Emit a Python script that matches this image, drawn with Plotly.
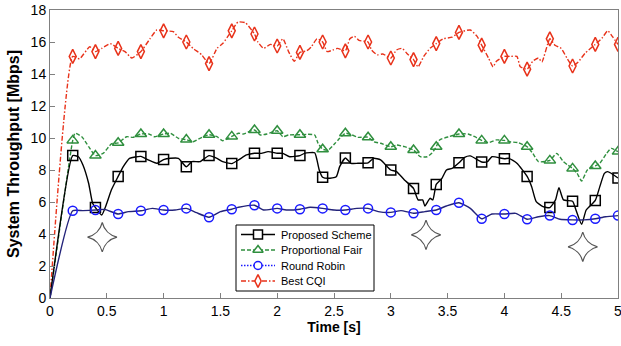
import plotly.graph_objects as go

# ---- data ----
cqi_t = [0, 0.2, 0.26, 0.35, 0.4, 0.455, 0.53, 0.6, 0.66, 0.72, 0.8, 0.88, 0.94, 1.0, 1.085, 1.13, 1.2, 1.26, 1.335, 1.4,
         1.47, 1.52, 1.6, 1.655, 1.72, 1.8, 1.83, 1.88, 1.94, 2.0, 2.05, 2.1, 2.15, 2.2, 2.26, 2.3, 2.35, 2.4, 2.44, 2.49,
         2.53, 2.6, 2.64, 2.68, 2.72, 2.8, 2.83, 2.88, 2.93, 3.0, 3.05, 3.1, 3.14, 3.2, 3.24, 3.29, 3.345, 3.4, 3.46, 3.54,
         3.6, 3.7, 3.76, 3.8, 3.86, 3.9, 3.93, 4.0, 4.05, 4.11, 4.14, 4.2, 4.25, 4.3, 4.33, 4.4, 4.445, 4.5, 4.55, 4.6,
         4.65, 4.71, 4.8, 4.86, 4.91, 4.95, 5.0]
cqi_v = [0, 15.1, 14.95, 15.7, 15.4, 15.6, 15.9, 15.6, 15.4, 15.0, 15.4, 16.2, 16.75, 16.7, 16.65, 16.3, 16.0, 15.6, 15.2, 14.65,
         15.6, 15.9, 16.7, 17.25, 17.2, 16.5, 16.0, 15.6, 15.85, 15.75, 16.2, 15.4, 14.8, 15.35, 15.45, 15.7, 16.2, 16.0, 15.4, 15.5,
         15.6, 15.45, 16.2, 16.35, 16.1, 16.0, 15.5, 15.2, 15.25, 15.0, 15.5, 15.6, 15.3, 14.9, 14.45, 15.1, 15.6, 15.9, 16.2, 16.3,
         16.6, 16.75, 16.35, 15.8, 15.0, 14.45, 14.8, 15.1, 15.1, 15.1, 14.45, 14.3, 14.8, 15.0, 14.75, 16.2, 15.8, 15.6, 15.0, 14.5,
         14.75, 15.3, 15.85, 16.25, 16.7, 16.35, 15.85]

pf_t = [0, 0.2, 0.22, 0.28, 0.34, 0.4, 0.47, 0.54, 0.6, 0.675, 0.73, 0.8, 0.87, 0.92, 1.0, 1.06, 1.13, 1.2, 1.26, 1.32,
        1.4, 1.47, 1.52, 1.6, 1.66, 1.70, 1.8, 1.85, 1.91, 2.0, 2.05, 2.1, 2.2, 2.26, 2.33, 2.36, 2.4, 2.45, 2.51, 2.55,
        2.6, 2.66, 2.71, 2.8, 2.85, 2.91, 3.0, 3.05, 3.12, 3.2, 3.26, 3.32, 3.36, 3.4, 3.43, 3.51, 3.6, 3.68, 3.74, 3.8,
        3.86, 3.93, 4.0, 4.04, 4.12, 4.2, 4.25, 4.30, 4.4, 4.46, 4.52, 4.56, 4.6, 4.64, 4.68, 4.73, 4.8, 4.84, 4.9, 4.94, 5.0]
pf_v = [0, 9.85, 10.3, 10.08, 9.46, 8.9, 9.05, 9.63, 9.7, 10.08, 10.04, 10.25, 10.25, 10.08, 10.25, 10.3, 9.98, 9.9, 9.77, 9.98,
        10.2, 10.08, 9.83, 10.1, 10.3, 10.25, 10.5, 10.19, 10.25, 10.45, 10.08, 10.19, 10.2, 10.23, 10.19, 9.67, 9.3, 9.25, 9.67, 9.98,
        10.3, 10.19, 10.04, 10.05, 9.77, 9.67, 9.45, 9.56, 9.46, 9.25, 8.83, 8.83, 9.04, 9.45, 9.88, 10.08, 10.25, 10.25, 10.08, 9.85,
        9.71, 9.88, 9.85, 9.77, 9.71, 9.45, 9.04, 8.52, 8.6, 9.04, 8.52, 8.3, 8.1, 7.79, 7.31, 8.0, 8.25, 8.42, 9.04, 9.35, 9.15]

ps_t = [0, 0.2, 0.25, 0.29, 0.34, 0.375, 0.4, 0.455, 0.5, 0.54, 0.6, 0.645, 0.7, 0.8, 0.865, 0.94, 1.0, 1.06, 1.13, 1.2,
        1.25, 1.32, 1.4, 1.47, 1.52, 1.6, 1.66, 1.73, 1.8, 1.86, 1.92, 2.0, 2.05, 2.11, 2.2, 2.24, 2.33, 2.35, 2.37, 2.4,
        2.45, 2.52, 2.55, 2.6, 2.65, 2.71, 2.8, 2.85, 2.91, 3.0, 3.05, 3.12, 3.2, 3.24, 3.28, 3.3, 3.345, 3.37, 3.4, 3.45,
        3.49, 3.54, 3.6, 3.65, 3.7, 3.8, 3.85, 3.89, 4.0, 4.04, 4.11, 4.2, 4.24, 4.28, 4.34, 4.4, 4.45, 4.48, 4.52, 4.6,
        4.63, 4.68, 4.72, 4.8, 4.84, 4.88, 4.91, 5.0]
ps_v = [0, 8.9, 8.83, 8.31, 7.17, 5.92, 5.65, 5.19, 5.92, 6.75, 7.6, 8.21, 8.73, 8.85, 8.63, 8.42, 8.65, 8.73, 8.73, 8.2,
        8.52, 8.52, 8.9, 8.73, 8.52, 8.4, 8.63, 8.94, 9.05, 9.04, 9.15, 9.05, 9.04, 8.83, 8.9, 9.04, 9.08, 8.63, 8.0, 7.55,
        7.48, 7.58, 8.21, 8.75, 8.42, 8.42, 8.45, 8.73, 8.63, 8.0, 7.9, 7.38, 6.85, 6.13, 6.13, 5.75, 6.23, 6.13, 7.1, 7.48,
        8.0, 8.1, 8.45, 8.79, 8.88, 8.5, 8.52, 8.83, 8.7, 8.73, 8.42, 7.6, 6.96, 6.02, 5.71, 5.65, 6.13, 6.9, 6.13, 6.05,
        5.5, 4.6, 5.5, 6.1, 6.96, 7.79, 7.9, 7.5]

rr_t = [0, 0.2, 0.29, 0.4, 0.48, 0.6, 0.69, 0.8, 0.9, 1.0, 1.1, 1.2, 1.29, 1.4, 1.5, 1.6, 1.66, 1.8, 1.88, 2.0,
        2.08, 2.2, 2.29, 2.4, 2.5, 2.6, 2.7, 2.8, 2.89, 3.0, 3.09, 3.2, 3.3, 3.4, 3.49, 3.6, 3.7, 3.8, 3.89, 4.0,
        4.1, 4.2, 4.3, 4.4, 4.49, 4.6, 4.7, 4.8, 4.89, 5.0]
rr_v = [0, 5.45, 5.46, 5.5, 5.54, 5.25, 5.4, 5.45, 5.6, 5.5, 5.5, 5.6, 5.33, 5.05, 5.4, 5.55, 5.67, 5.8, 5.5, 5.6,
        5.5, 5.55, 5.67, 5.6, 5.5, 5.5, 5.6, 5.6, 5.4, 5.35, 5.46, 5.3, 5.4, 5.5, 5.75, 5.95, 5.6, 4.95, 5.25, 5.25,
        5.29, 4.92, 5.08, 5.15, 4.92, 4.88, 4.88, 4.95, 5.08, 5.15]

star_t = [0.46, 3.31, 4.69]
star_v = [3.8, 3.95, 3.2]

x_ticks = [0, 0.5, 1, 1.5, 2, 2.5, 3, 3.5, 4, 4.5, 5]
x_labels = ["0", "0.5", "1", "1.5", "2", "2.5", "3", "3.5", "4", "4.5", "5"]
y_ticks = [0, 2, 4, 6, 8, 10, 12, 14, 16, 18]

legend_names = ["Proposed Scheme", "Proportional Fair", "Round Robin", "Best CQI"]

# ---- styles ----
FONT = "Liberation Sans, Arial, sans-serif"
W, H = 621, 346
ML, MR, MT, MB = 50, 3, 10, 48

styles = {
    "Best CQI": dict(lc="#e8321a", mc="#e8321a", dash="5px,2px,1.5px,2px", ldash="5px,2px,1.5px,2px",
                     sym="diamond-tall-open", sz=10),
    "Proportional Fair": dict(lc="#2f8f3e", mc="#2f8f3e", dash="4px,2px", ldash="4px,2px",
                              sym="triangle-up-open", sz=10),
    "Proposed Scheme": dict(lc="#000000", mc="#000000", dash="solid", ldash="solid", sym="square-open", sz=10),
    "Round Robin": dict(lc="#23237a", mc="#1a1aff", dash="solid", ldash="1.5px,1.5px", sym="circle-open", sz=9),
}
series = [("Best CQI", cqi_t, cqi_v), ("Proportional Fair", pf_t, pf_v),
          ("Proposed Scheme", ps_t, ps_v), ("Round Robin", rr_t, rr_v)]


def marker_pts(ts, vs):
    mt, mv = [], []
    for t, v in zip(ts, vs):
        if t > 0 and abs(t * 5 - round(t * 5)) < 1e-9:
            mt.append(t)
            mv.append(v)
    return mt, mv


fig = go.Figure()
for name, ts, vs in series:
    s = styles[name]
    fig.add_trace(go.Scatter(x=ts, y=vs, mode="lines", showlegend=False, hoverinfo="skip",
                             line=dict(color=s["lc"], width=1.4, dash=s["dash"], shape="spline", smoothing=0.5)))
    mt, mv = marker_pts(ts, vs)
    fig.add_trace(go.Scatter(x=mt, y=mv, mode="markers", showlegend=False, name=name,
                             marker=dict(symbol=s["sym"], size=s["sz"], color=s["mc"],
                                         line=dict(width=1.5, color=s["mc"]))))

fig.add_trace(go.Scatter(x=star_t, y=star_v, mode="markers", showlegend=False, hoverinfo="skip",
                         marker=dict(symbol="star-diamond", size=21, color="white",
                                     line=dict(width=1.2, color="#555555"))))

# ---- compact legend box (pixel-space overlay axes spanning the plot area) ----
box_x0, box_x1, box_y0, box_y1 = 236, 374, 225, 291
row_h = 15.5
first_row = 234.5
seg_x0, seg_x1, txt_x = 241, 275, 279
for k, name in enumerate(legend_names):
    s = styles[name]
    yy = first_row + k * row_h
    lc = s["mc"] if name == "Round Robin" else s["lc"]
    fig.add_trace(go.Scatter(x=[seg_x0, seg_x1], y=[yy, yy], xaxis="x2", yaxis="y2", mode="lines",
                             showlegend=False, hoverinfo="skip",
                             line=dict(color=lc, width=1.5, dash=s["ldash"])))
    fig.add_trace(go.Scatter(x=[(seg_x0 + seg_x1) / 2], y=[yy], xaxis="x2", yaxis="y2", mode="markers",
                             showlegend=False, hoverinfo="skip",
                             marker=dict(symbol=s["sym"].replace("-open", ""), size=s["sz"] - 1, color="white",
                                         line=dict(width=1.5, color=s["mc"]))))
    fig.add_annotation(x=txt_x, y=yy, xref="x2", yref="y2", text=name, showarrow=False,
                       xanchor="left", yanchor="middle", font=dict(size=11, family=FONT, color="#000000"))

fig.add_shape(type="rect", xref="x2", yref="y2", x0=box_x0, x1=box_x1, y0=box_y0, y1=box_y1,
              line=dict(color="#000000", width=1), fillcolor="white", layer="below")

axis_common = dict(showline=True, mirror=True, linecolor="#808080", linewidth=1,
                   ticks="inside", ticklen=5, tickcolor="#808080", showgrid=False, zeroline=False,
                   ticklabeloverflow="allow",
                   tickfont=dict(size=14, color="#000000", family=FONT))

fig.update_layout(
    width=W, height=H,
    margin=dict(l=ML, r=MR, t=MT, b=MB, autoexpand=False),
    paper_bgcolor="white", plot_bgcolor="white",
    font=dict(family=FONT, color="#000000"),
    xaxis=dict(range=[0, 5], tickvals=x_ticks, ticktext=x_labels, automargin=False,
               title=dict(text="<b>Time [s]</b>", font=dict(size=14), standoff=2), **axis_common),
    yaxis=dict(range=[0, 18], tickvals=y_ticks, automargin=False,
               title=dict(text="<b>System Throughput [Mbps]</b>", font=dict(size=16), standoff=7), **axis_common),
    xaxis2=dict(range=[ML, W - MR], overlaying="x", anchor="y2", visible=False, fixedrange=True),
    yaxis2=dict(range=[H - MB, MT], overlaying="y", anchor="x2", visible=False, fixedrange=True),
    showlegend=False,
)

fig.write_html("out.html", config={"displayModeBar": False},
               post_script="document.body.style.margin='0px';document.body.style.overflow='hidden';")
